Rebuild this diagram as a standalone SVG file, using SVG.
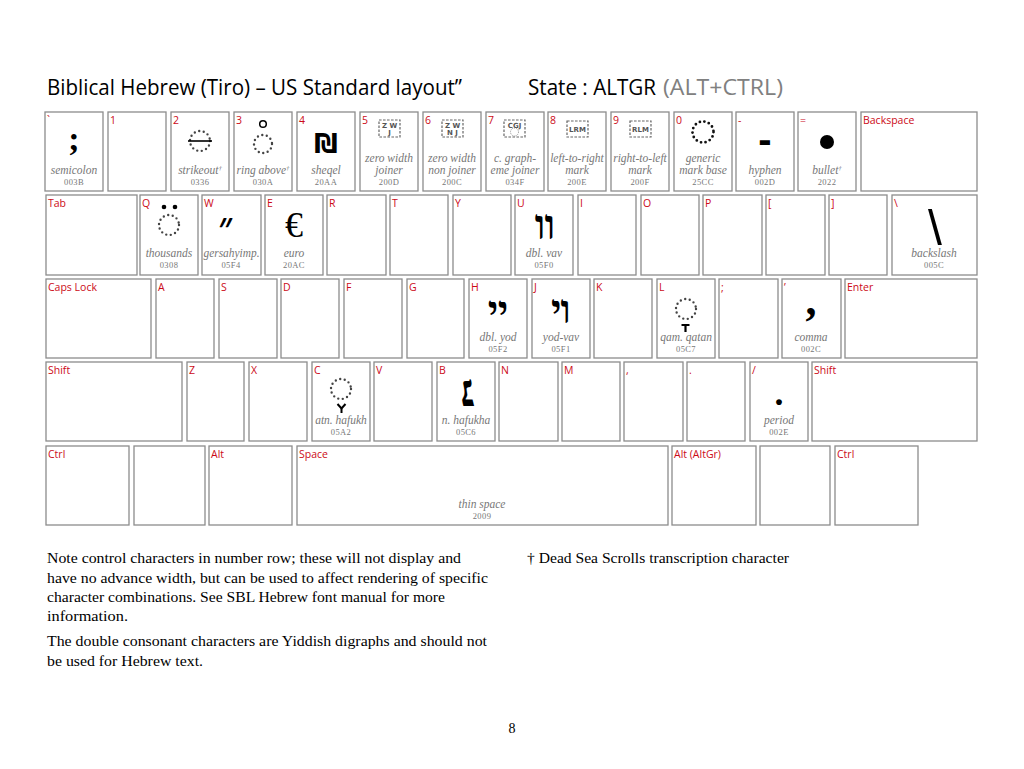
<svg xmlns="http://www.w3.org/2000/svg" width="1024" height="769" viewBox="0 0 1024 769">
<style>
.k{fill:#fff;stroke:#8c8c8c;stroke-width:1.3}
.lb{font-family:"Open Sans","Liberation Sans",sans-serif;font-size:10.5px;fill:#cc0a17}
.ds{font-family:"Liberation Serif",serif;font-style:italic;font-size:11.5px;fill:#777;text-anchor:middle}
.cd{font-family:"Liberation Serif",serif;font-size:8.5px;fill:#777;text-anchor:middle;letter-spacing:0.4px}
.dot{fill:none;stroke:#444;stroke-width:2.4;stroke-linecap:round;stroke-dasharray:0 4.6}
.zb{fill:none;stroke:#666;stroke-width:1.2;stroke-dasharray:2.6 1.4}
.zt{font-family:"DejaVu Sans",sans-serif;font-weight:bold;font-size:7px;fill:#555;text-anchor:middle}
.gs{font-family:"Liberation Serif",serif;font-weight:bold;fill:#000;text-anchor:middle}
.gh{font-family:"Liberation Serif","DejaVu Serif","DejaVu Sans",serif;font-weight:bold;fill:#000;text-anchor:middle}
.gn{font-family:"DejaVu Sans",sans-serif;font-weight:bold;fill:#000;text-anchor:middle}
.ga{font-family:"Liberation Sans",sans-serif;fill:#000;text-anchor:middle}
.mk{fill:none;stroke:#000;stroke-width:2}
.nt{font-family:"Liberation Serif",serif;font-size:14px;fill:#000}
.tt{font-family:"Open Sans","Liberation Sans",sans-serif;font-size:21px;fill:#000}
</style>
<rect width="1024" height="769" fill="#fff"/>
<g id="title">
<text class="tt" x="47" y="95" textLength="415" lengthAdjust="spacingAndGlyphs">Biblical Hebrew (Tiro) – US Standard layout”</text>
<text class="tt" x="528" y="95" textLength="128" lengthAdjust="spacingAndGlyphs">State : ALTGR</text>
<text class="tt" x="663" y="95" style="fill:#808080" textLength="120" lengthAdjust="spacingAndGlyphs">(ALT+CTRL)</text>
</g>
<!-- Row 1 -->
<g id="key-grave"><rect class="k" x="45" y="112" width="58" height="79"/><text class="lb" x="47" y="124">`</text><text class="gs" x="74" y="150" font-size="34">;</text><text class="ds" x="74" y="174">semicolon</text><text class="cd" x="74" y="185">003B</text></g>
<g id="key-1"><rect class="k" x="108" y="112" width="58" height="79"/><text class="lb" x="110" y="124">1</text></g>
<g id="key-2"><rect class="k" x="171" y="112" width="58" height="79"/><text class="lb" x="173" y="124">2</text><circle class="dot" cx="200" cy="141" r="10"/><line x1="188" y1="141" x2="212" y2="141" stroke="#000" stroke-width="1.6"/><text class="ds" x="200" y="174">strikeout<tspan font-size="7" dy="-4">†</tspan></text><text class="cd" x="200" y="185">0336</text></g>
<g id="key-3"><rect class="k" x="234" y="112" width="58" height="79"/><text class="lb" x="236" y="124">3</text><circle cx="263" cy="124" r="3.3" fill="none" stroke="#000" stroke-width="1.5"/><circle class="dot" cx="263" cy="144" r="9"/><text class="ds" x="263" y="174">ring above<tspan font-size="7" dy="-4">†</tspan></text><text class="cd" x="263" y="185">030A</text></g>
<g id="key-4"><rect class="k" x="297" y="112" width="58" height="79"/><text class="lb" x="299" y="124">4</text><text class="gn" x="326" y="153" font-size="26">₪</text><text class="ds" x="326" y="174">sheqel</text><text class="cd" x="326" y="185">20AA</text></g>
<g id="key-5"><rect class="k" x="360" y="112" width="58" height="79"/><text class="lb" x="362" y="124">5</text><rect class="zb" x="379" y="120" width="21" height="17"/><text class="zt" x="389.5" y="127.5">Z W</text><text class="zt" x="389.5" y="135">J</text><text class="ds" x="389" y="162">zero width</text><text class="ds" x="389" y="174">joiner</text><text class="cd" x="389" y="185">200D</text></g>
<g id="key-6"><rect class="k" x="423" y="112" width="58" height="79"/><text class="lb" x="425" y="124">6</text><rect class="zb" x="442" y="120" width="21" height="17"/><text class="zt" x="452.5" y="127.5">Z W</text><text class="zt" x="452.5" y="135">N J</text><text class="ds" x="452" y="162">zero width</text><text class="ds" x="452" y="174">non joiner</text><text class="cd" x="452" y="185">200C</text></g>
<g id="key-7"><rect class="k" x="486" y="112" width="58" height="79"/><text class="lb" x="488" y="124">7</text><rect class="zb" x="504" y="120" width="21" height="17"/><text class="zt" x="514.5" y="127.5">CGJ</text><circle cx="514.5" cy="132" r="4" fill="none" stroke="#777" stroke-width="0.8" stroke-dasharray="1 1"/><text class="ds" x="515" y="162">c. graph-</text><text class="ds" x="515" y="174">eme joiner</text><text class="cd" x="515" y="185">034F</text></g>
<g id="key-8"><rect class="k" x="548" y="112" width="58" height="79"/><text class="lb" x="550" y="124">8</text><rect class="zb" x="567" y="121" width="21" height="16"/><text class="zt" x="577.5" y="131.5">LRM</text><text class="ds" x="577" y="162">left-to-right</text><text class="ds" x="577" y="174">mark</text><text class="cd" x="577" y="185">200E</text></g>
<g id="key-9"><rect class="k" x="611" y="112" width="58" height="79"/><text class="lb" x="613" y="124">9</text><rect class="zb" x="630" y="121" width="21" height="16"/><text class="zt" x="640.5" y="131.5">RLM</text><text class="ds" x="640" y="162">right-to-left</text><text class="ds" x="640" y="174">mark</text><text class="cd" x="640" y="185">200F</text></g>
<g id="key-0"><rect class="k" x="674" y="112" width="58" height="79"/><text class="lb" x="676" y="124">0</text><circle class="dot" cx="703" cy="132" r="10.5" style="stroke:#111;stroke-width:2.8"/><text class="ds" x="703" y="162">generic</text><text class="ds" x="703" y="174">mark base</text><text class="cd" x="703" y="185">25CC</text></g>
<g id="key-minus"><rect class="k" x="736" y="112" width="58" height="79"/><text class="lb" x="738" y="124">-</text><text class="ga" x="765" y="153" font-size="40" font-weight="bold">-</text><text class="ds" x="765" y="174">hyphen</text><text class="cd" x="765" y="185">002D</text></g>
<g id="key-equal"><rect class="k" x="798" y="112" width="58" height="79"/><text class="lb" x="800" y="124">=</text><circle cx="827" cy="142" r="7" fill="#000"/><text class="ds" x="827" y="174">bullet<tspan font-size="7" dy="-4">†</tspan></text><text class="cd" x="827" y="185">2022</text></g>
<g id="key-backspace"><rect class="k" x="861" y="112" width="116" height="79"/><text class="lb" x="863" y="124">Backspace</text></g>
<!-- Row 2 -->
<g id="key-tab"><rect class="k" x="46" y="195" width="91" height="80"/><text class="lb" x="48" y="207">Tab</text></g>
<g id="key-q"><rect class="k" x="140" y="195" width="58" height="80"/><text class="lb" x="142" y="207">Q</text><circle cx="164" cy="207" r="2.3"/><circle cx="175" cy="207" r="2.3"/><circle class="dot" cx="169" cy="225" r="10"/><text class="ds" x="169" y="257">thousands</text><text class="cd" x="169" y="268">0308</text></g>
<g id="key-w"><rect class="k" x="202" y="195" width="59" height="80"/><text class="lb" x="204" y="207">W</text><text class="gh" x="226" y="240" font-size="40">״</text><text class="ds" x="231.5" y="257" textLength="56" lengthAdjust="spacingAndGlyphs">gersahyimp.</text><text class="cd" x="231" y="268">05F4</text></g>
<g id="key-e"><rect class="k" x="265" y="195" width="58" height="80"/><text class="lb" x="267" y="207">E</text><text x="294" y="237" font-family="Liberation Serif, serif" font-size="36" text-anchor="middle">€</text><text class="ds" x="294" y="257">euro</text><text class="cd" x="294" y="268">20AC</text></g>
<g id="key-r"><rect class="k" x="327" y="195" width="59" height="80"/><text class="lb" x="329" y="207">R</text></g>
<g id="key-t"><rect class="k" x="390" y="195" width="58" height="80"/><text class="lb" x="392" y="207">T</text></g>
<g id="key-y"><rect class="k" x="453" y="195" width="58" height="80"/><text class="lb" x="455" y="207">Y</text></g>
<g id="key-u"><rect class="k" x="515" y="195" width="58" height="80"/><text class="lb" x="517" y="207">U</text><text class="gh" x="545" y="239" font-size="42">װ</text><text class="ds" x="544" y="257">dbl. vav</text><text class="cd" x="544" y="268">05F0</text></g>
<g id="key-i"><rect class="k" x="578" y="195" width="58" height="80"/><text class="lb" x="580" y="207">I</text></g>
<g id="key-o"><rect class="k" x="641" y="195" width="58" height="80"/><text class="lb" x="643" y="207">O</text></g>
<g id="key-p"><rect class="k" x="703" y="195" width="59" height="80"/><text class="lb" x="705" y="207">P</text></g>
<g id="key-lbracket"><rect class="k" x="766" y="195" width="59" height="80"/><text class="lb" x="768" y="207">[</text></g>
<g id="key-rbracket"><rect class="k" x="829" y="195" width="58" height="80"/><text class="lb" x="831" y="207">]</text></g>
<g id="key-backslash"><rect class="k" x="892" y="195" width="85" height="80"/><text class="lb" x="894" y="207">\</text><text class="ga" x="935" y="245" font-size="50">\</text><text class="ds" x="934" y="257">backslash</text><text class="cd" x="934" y="268">005C</text></g>
<!-- Row 3 -->
<g id="key-capslock"><rect class="k" x="46" y="279" width="105" height="79"/><text class="lb" x="48" y="291">Caps Lock</text></g>
<g id="key-a"><rect class="k" x="156" y="279" width="58" height="79"/><text class="lb" x="158" y="291">A</text></g>
<g id="key-s"><rect class="k" x="219" y="279" width="58" height="79"/><text class="lb" x="221" y="291">S</text></g>
<g id="key-d"><rect class="k" x="281" y="279" width="58" height="79"/><text class="lb" x="283" y="291">D</text></g>
<g id="key-f"><rect class="k" x="344" y="279" width="58" height="79"/><text class="lb" x="346" y="291">F</text></g>
<g id="key-g"><rect class="k" x="407" y="279" width="57" height="79"/><text class="lb" x="409" y="291">G</text></g>
<g id="key-h"><rect class="k" x="469" y="279" width="58" height="79"/><text class="lb" x="471" y="291">H</text><text class="gh" x="498" y="324" font-size="40">ײ</text><text class="ds" x="498" y="341">dbl. yod</text><text class="cd" x="498" y="352">05F2</text></g>
<g id="key-j"><rect class="k" x="532" y="279" width="58" height="79"/><text class="lb" x="534" y="291">J</text><text class="gh" x="561" y="323" font-size="40">ױ</text><text class="ds" x="561" y="341">yod-vav</text><text class="cd" x="561" y="352">05F1</text></g>
<g id="key-k"><rect class="k" x="594" y="279" width="58" height="79"/><text class="lb" x="596" y="291">K</text></g>
<g id="key-l"><rect class="k" x="657" y="279" width="58" height="79"/><text class="lb" x="659" y="291">L</text><circle class="dot" cx="686" cy="309" r="10"/><line x1="681.5" y1="325" x2="689.5" y2="325" stroke="#000" stroke-width="2"/><line x1="685.5" y1="325" x2="685.5" y2="332" stroke="#000" stroke-width="2.2"/><text class="ds" x="686" y="341">qam. qatan</text><text class="cd" x="686" y="352">05C7</text></g>
<g id="key-semicolon"><rect class="k" x="719" y="279" width="59" height="79"/><text class="lb" x="721" y="291">;</text></g>
<g id="key-quote"><rect class="k" x="782" y="279" width="59" height="79"/><text class="lb" x="784" y="291">’</text><text class="gs" x="811" y="315" font-size="44">,</text><text class="ds" x="811" y="341">comma</text><text class="cd" x="811" y="352">002C</text></g>
<g id="key-enter"><rect class="k" x="845" y="279" width="132" height="79"/><text class="lb" x="847" y="291">Enter</text></g>
<!-- Row 4 -->
<g id="key-lshift"><rect class="k" x="46" y="362" width="136" height="79"/><text class="lb" x="48" y="374">Shift</text></g>
<g id="key-z"><rect class="k" x="187" y="362" width="57" height="79"/><text class="lb" x="189" y="374">Z</text></g>
<g id="key-x"><rect class="k" x="249" y="362" width="58" height="79"/><text class="lb" x="251" y="374">X</text></g>
<g id="key-c"><rect class="k" x="312" y="362" width="58" height="79"/><text class="lb" x="314" y="374">C</text><circle class="dot" cx="341" cy="389" r="10"/><polyline class="mk" points="337.5,404 341.5,408.5 345.5,404"/><line x1="341.5" y1="408.5" x2="341.5" y2="413" stroke="#000" stroke-width="2"/><text class="ds" x="341" y="424">atn. hafukh</text><text class="cd" x="341" y="435">05A2</text></g>
<g id="key-v"><rect class="k" x="374" y="362" width="58" height="79"/><text class="lb" x="376" y="374">V</text></g>
<g id="key-b"><rect class="k" x="437" y="362" width="58" height="79"/><text class="lb" x="439" y="374">B</text><text class="gh" x="467" y="406" font-size="46">׆</text><text class="ds" x="466" y="424">n. hafukha</text><text class="cd" x="466" y="435">05C6</text></g>
<g id="key-n"><rect class="k" x="499" y="362" width="59" height="79"/><text class="lb" x="501" y="374">N</text></g>
<g id="key-m"><rect class="k" x="562" y="362" width="58" height="79"/><text class="lb" x="564" y="374">M</text></g>
<g id="key-comma"><rect class="k" x="624" y="362" width="59" height="79"/><text class="lb" x="626" y="374">,</text></g>
<g id="key-period"><rect class="k" x="687" y="362" width="58" height="79"/><text class="lb" x="689" y="374">.</text></g>
<g id="key-slash"><rect class="k" x="750" y="362" width="58" height="79"/><text class="lb" x="752" y="374">/</text><text class="gs" x="779" y="405" font-size="36">.</text><text class="ds" x="779" y="424">period</text><text class="cd" x="779" y="435">002E</text></g>
<g id="key-rshift"><rect class="k" x="812" y="362" width="165" height="79"/><text class="lb" x="814" y="374">Shift</text></g>
<!-- Row 5 -->
<g id="key-lctrl"><rect class="k" x="46" y="446" width="83" height="79"/><text class="lb" x="48" y="458">Ctrl</text></g>
<g id="key-lwin"><rect class="k" x="134" y="446" width="71" height="79"/></g>
<g id="key-lalt"><rect class="k" x="209" y="446" width="83" height="79"/><text class="lb" x="211" y="458">Alt</text></g>
<g id="key-space"><rect class="k" x="297" y="446" width="371" height="79"/><text class="lb" x="299" y="458">Space</text><text class="ds" x="482" y="508">thin space</text><text class="cd" x="482" y="519">2009</text></g>
<g id="key-altgr"><rect class="k" x="672" y="446" width="84" height="79"/><text class="lb" x="674" y="458">Alt (AltGr)</text></g>
<g id="key-menu"><rect class="k" x="760" y="446" width="70" height="79"/></g>
<g id="key-rctrl"><rect class="k" x="835" y="446" width="83" height="79"/><text class="lb" x="837" y="458">Ctrl</text></g>
<g id="notes">
<text class="nt" x="47" y="563" textLength="414" lengthAdjust="spacingAndGlyphs">Note control characters in number row; these will not display and</text>
<text class="nt" x="47" y="583" textLength="441" lengthAdjust="spacingAndGlyphs">have no advance width, but can be used to affect rendering of specific</text>
<text class="nt" x="47" y="602" textLength="398" lengthAdjust="spacingAndGlyphs">character combinations. See SBL Hebrew font manual for more</text>
<text class="nt" x="47" y="621" textLength="81" lengthAdjust="spacingAndGlyphs">information.</text>
<text class="nt" x="47" y="646" textLength="440" lengthAdjust="spacingAndGlyphs">The double consonant characters are Yiddish digraphs and should not</text>
<text class="nt" x="47" y="666" textLength="156" lengthAdjust="spacingAndGlyphs">be used for Hebrew text.</text>
<text class="nt" x="527" y="563" textLength="262" lengthAdjust="spacingAndGlyphs">† Dead Sea Scrolls transcription character</text>
<text class="nt" x="512" y="733" text-anchor="middle">8</text>
</g>
</svg>
